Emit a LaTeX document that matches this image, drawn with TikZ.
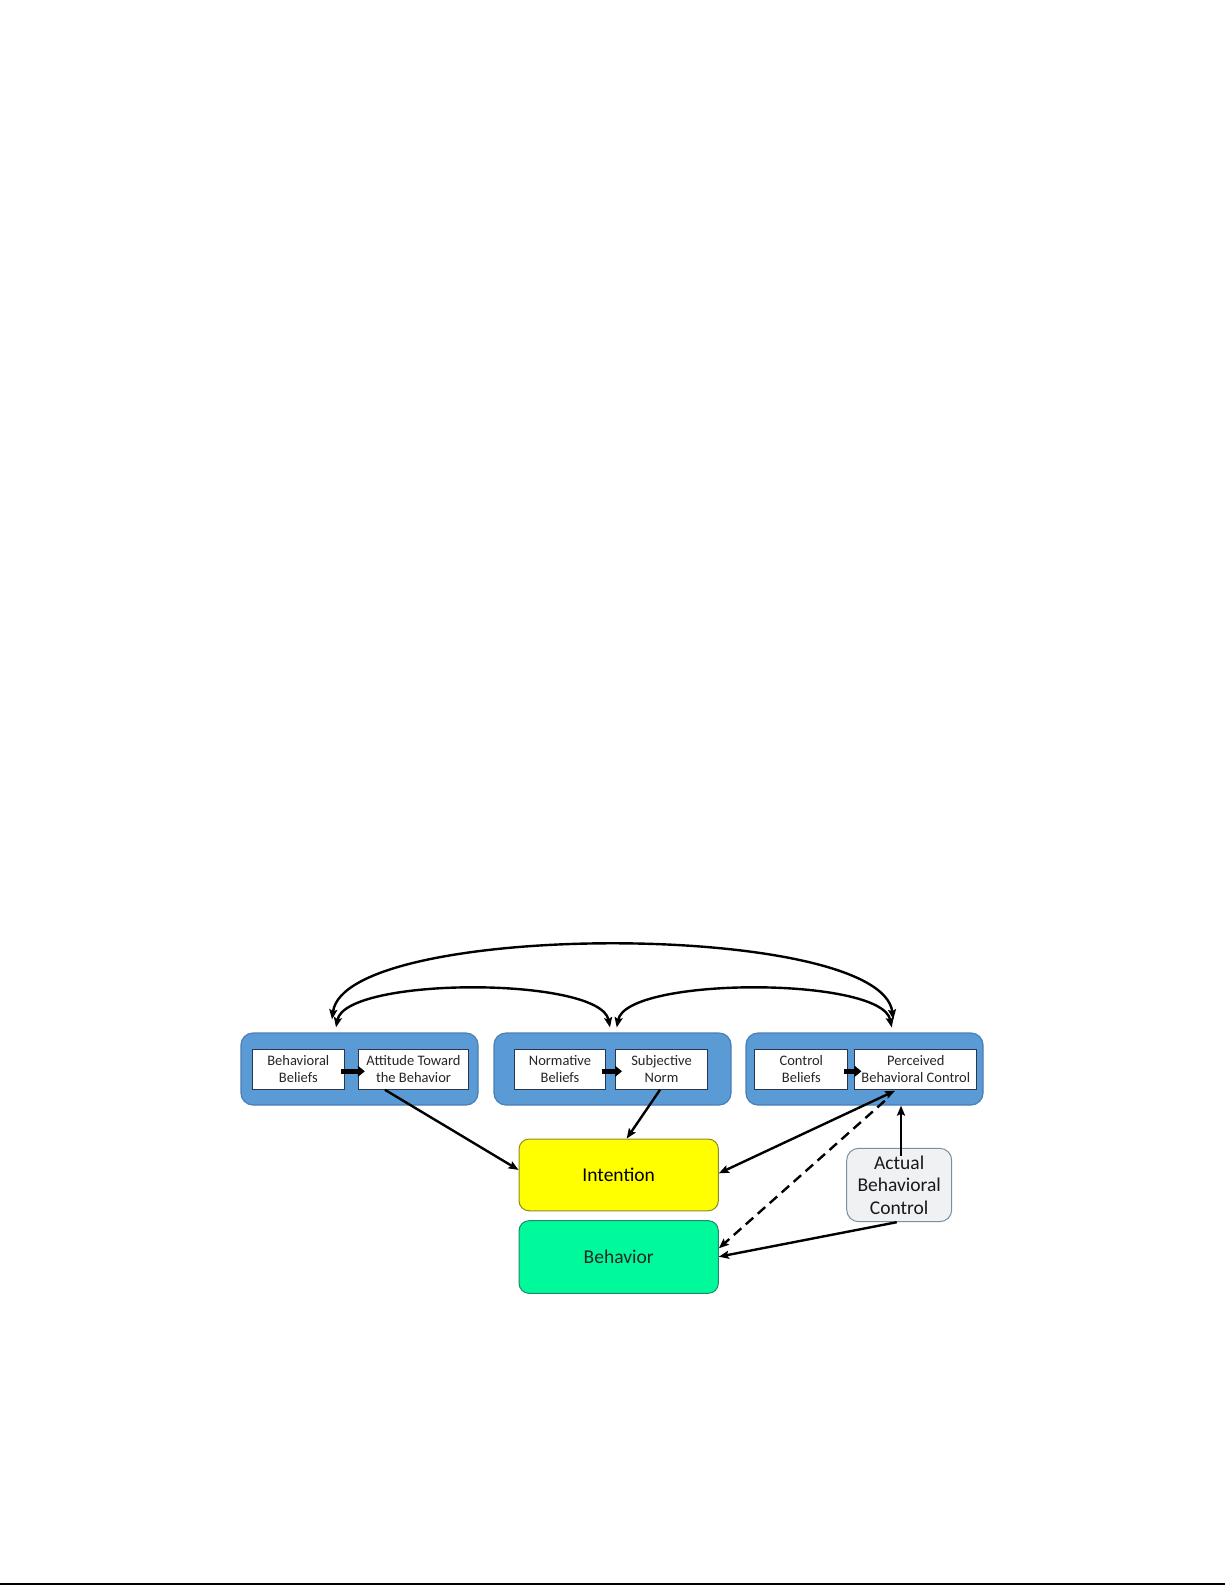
\documentclass[tikz,border=0pt]{standalone}
\usepackage{fontspec}
\setmainfont{Carlito}
\usetikzlibrary{arrows.meta}
\definecolor{grpblue}{HTML}{5B9BD5}
\definecolor{grpedge}{HTML}{4A7FB5}
\definecolor{inedge}{HTML}{2A3550}
\definecolor{intfill}{HTML}{FFFF00}
\definecolor{intedge}{HTML}{8C8C20}
\definecolor{behfill}{HTML}{00F99A}
\definecolor{behedge}{HTML}{1F8A66}
\definecolor{abcfill}{HTML}{EFF1F2}
\definecolor{abcedge}{HTML}{7890A4}
\begin{document}
\begin{tikzpicture}[x=1pt,y=-1pt,
  group/.style={draw=grpedge, line width=1.2pt, fill=grpblue, rounded corners=12pt,
    minimum width=237pt, minimum height=72pt, inner sep=0pt},
  inbox/.style={draw=inedge, line width=1pt, fill=white, minimum height=40pt,
    inner sep=0pt, align=center, font=\fontsize{14.5}{16.8}\selectfont, text=black!85},
  bigbox/.style={rounded corners=10pt, line width=1pt, inner sep=0pt, align=center,
    font=\fontsize{19.5}{22.5}\selectfont},
  thick arrow/.style={line width=4.5pt, -{Triangle[length=7pt,width=11pt]}},
  conn/.style={line width=2.4pt, -{Stealth[length=10pt,width=8pt,inset=1.8pt]}},
  arc/.style={line width=2.4pt, {Stealth[length=10pt,width=8pt,inset=1.8pt]}-{Stealth[length=10pt,width=8pt,inset=1.8pt]}}
]
\useasboundingbox (0,0) rectangle (1225,1585);
\fill[white] (0,0) rectangle (1225,1585);

% group boxes
\node[group] (g1) at (359.5,1069) {};
\node[group] (g2) at (612.5,1069) {};
\node[group] (g3) at (864.5,1069) {};

% inner boxes
\node[inbox, minimum width=92pt]    (bb)  at (298.3,1069.3) {Behavioral\\Beliefs};
\node[inbox, minimum width=110.4pt] (att) at (413.5,1069.3) {Attitude Toward\\the Behavior};
\node[inbox, minimum width=91pt]    (nb)  at (560.0,1069.3) {Normative\\Beliefs};
\node[inbox, minimum width=92pt]    (sn)  at (661.5,1069.3) {Subjective\\Norm};
\node[inbox, minimum width=92.7pt]  (cb)  at (801.3,1069.3) {Control\\Beliefs};
\node[inbox, minimum width=121.7pt] (pbc) at (915.8,1069.3) {Perceived\\Behavioral Control};

% thick arrows inside groups
\draw[thick arrow] ([xshift=-4,yshift=-2]bb.east) -- ([xshift=7,yshift=-2]att.west);
\draw[thick arrow] ([xshift=-4,yshift=-2]nb.east) -- ([xshift=7,yshift=-2]sn.west);
\draw[thick arrow] ([xshift=-4,yshift=-2]cb.east) -- ([xshift=7,yshift=-2]pbc.west);

% lower boxes
\node[bigbox, draw=intedge, fill=intfill, minimum width=199.3pt, minimum height=71.7pt]
  (int) at (618.7,1174.9) {Intention};
\node[bigbox, draw=behedge, fill=behfill, minimum width=199.3pt, minimum height=72.6pt, text=black!85]
  (beh) at (618.7,1257) {Behavior};
\node[bigbox, rounded corners=12pt, draw=abcedge, fill=abcfill, minimum width=105pt, minimum height=73.4pt, text=black!90]
  (abc) at (899.2,1185) {Actual\\Behavioral\\Control};

% arcs
\draw[arc] ([xshift=-27.5,yshift=13]g1.north) .. controls +(13,-99) and +(-13,-99) .. ([xshift=28.8,yshift=13]g3.north);
\draw[arc] ([xshift=-23.5,yshift=5]g1.north) .. controls +(10,-51) and +(-10,-51) .. ([xshift=-2.5,yshift=5]g2.north);
\draw[arc] ([xshift=4.2,yshift=5]g2.north) .. controls +(10,-51) and +(-10,-51) .. ([xshift=27.2,yshift=5]g3.north);

% connectors
\draw[conn] ([xshift=-28.5]att.south) -- ([yshift=5]int.west);
\draw[conn] ([xshift=-1.5]sn.south) -- ([xshift=8]int.north);
\draw[arc] ([xshift=-20.8,yshift=-1]pbc.south) -- ([yshift=1.6]int.east);
\draw[conn, dash pattern=on 10pt off 6pt] ([xshift=-31,yshift=-11]pbc.south) -- ([yshift=8.7]beh.east);
\draw[conn] ([xshift=1.8,yshift=-8.4]abc.north) -- ([xshift=36.5]g3.south);
\draw[conn] ([xshift=-2.5]abc.south) -- ([yshift=0.3]beh.east);

% page bottom rule
\draw[line width=1.5pt] (0,1584) -- (1225,1584);
\end{tikzpicture}
\end{document}
